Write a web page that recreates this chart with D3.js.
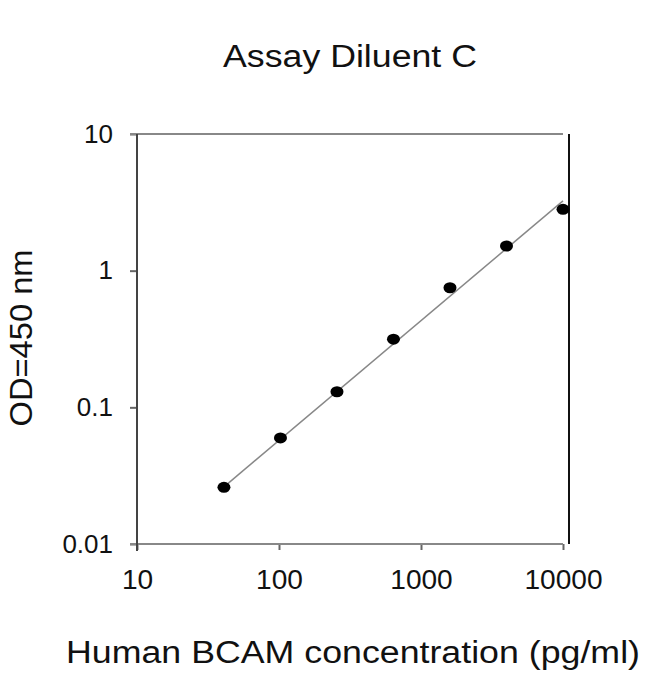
<!DOCTYPE html>
<html>
<head>
<meta charset="utf-8">
<script src="https://cdn.jsdelivr.net/npm/d3@7"></script>
<style>
  body { margin: 0; background: #fff; }
  text { font-family: "Liberation Sans", Arial, sans-serif; fill: #111; }
</style>
</head>
<body>
<svg width="650" height="674"></svg>
<script>
// standards (pg/ml) and measured OD
const concentration = [40.96, 102.4, 256, 640, 1600, 4000, 10000];
const od = [0.026, 0.0597, 0.130, 0.315, 0.75, 1.515, 2.81];
// fitted curve end points
const fitX = [40.96, 10000];
const fitY = [0.0262, 3.24];
const xTicks = [10, 100, 1000, 10000];
const yTicks = [0.01, 0.1, 1, 10];
const yTickLabels = ["0.01", "0.1", "1", "10"];

const svg = d3.select("svg");

let xScale = d3.scaleLog().domain([10, 10000]).range([137, 563]);
let yScale = d3.scaleLog().domain([0.01, 10]).range([544, 134]);

// title
svg.append("text")
  .attr("x", 350).attr("y", 67)
  .attr("text-anchor", "middle")
  .attr("font-size", 31)
  .attr("textLength", 254).attr("lengthAdjust", "spacingAndGlyphs")
  .text("Assay Diluent C");

// x axis
let xAxis = d3.axisBottom(xScale)
  .tickValues(xTicks).tickFormat(d3.format("d"))
  .tickSizeOuter(0).tickSizeInner(6).tickPadding(20);
let xAxisG = svg.append("g").attr("id", "xAxisG")
  .attr("transform", "translate(0, 544)")
  .call(xAxis);
xAxisG.select(".domain").remove();
xAxisG.selectAll(".tick line").attr("stroke", "#666").attr("stroke-width", 2);
xAxisG.selectAll(".tick text").attr("font-size", 27).attr("fill", "#111")
  .attr("transform", "scale(1.04, 1)");

// y axis
let yAxis = d3.axisLeft(yScale)
  .tickValues(yTicks).tickFormat((d, i) => yTickLabels[i])
  .tickSizeOuter(0).tickSizeInner(7).tickPadding(17);
let yAxisG = svg.append("g").attr("id", "yAxisG")
  .attr("transform", "translate(137, 0)")
  .call(yAxis);
yAxisG.select(".domain").remove();
yAxisG.selectAll(".tick line").attr("stroke", "#666").attr("stroke-width", 2);
yAxisG.selectAll(".tick text").attr("font-size", 26).attr("fill", "#111");

// frame
svg.append("line")
  .attr("x1", xScale(10) - 7).attr("x2", xScale(10000))
  .attr("y1", yScale(10)).attr("y2", yScale(10))
  .attr("stroke", "#888").attr("stroke-width", 2);
svg.append("line")
  .attr("x1", xScale(10) - 7).attr("x2", xScale(10000))
  .attr("y1", yScale(0.01)).attr("y2", yScale(0.01))
  .attr("stroke", "#888").attr("stroke-width", 2);
svg.append("line")
  .attr("x1", xScale(10)).attr("x2", xScale(10))
  .attr("y1", yScale(10)).attr("y2", yScale(0.01) + 7)
  .attr("stroke", "#444").attr("stroke-width", 2);
svg.append("line")
  .attr("x1", xScale(10000) + 6).attr("x2", xScale(10000) + 6)
  .attr("y1", yScale(10)).attr("y2", yScale(0.01))
  .attr("stroke", "#111").attr("stroke-width", 2);

// fit line
let fitLine = d3.line()
  .x(d => xScale(d[0]))
  .y(d => yScale(d[1]));
svg.append("path")
  .attr("d", fitLine(fitX.map((x, i) => [x, fitY[i]])))
  .attr("fill", "none")
  .attr("stroke", "#888")
  .attr("stroke-width", 1.5);

// points
svg.selectAll("ellipse.pt")
  .data(concentration)
  .join("ellipse")
  .attr("class", "pt")
  .attr("cx", d => xScale(d))
  .attr("cy", (d, i) => yScale(od[i]))
  .attr("rx", 6.5).attr("ry", 5.5)
  .attr("fill", "#000");

// axis titles
svg.append("text")
  .attr("x", 353).attr("y", 663)
  .attr("text-anchor", "middle")
  .attr("font-size", 31)
  .attr("textLength", 574).attr("lengthAdjust", "spacingAndGlyphs")
  .text("Human BCAM concentration (pg/ml)");

svg.append("text")
  .attr("transform", "translate(32, 338) rotate(-90)")
  .attr("text-anchor", "middle")
  .attr("font-size", 32)
  .attr("textLength", 177).attr("lengthAdjust", "spacingAndGlyphs")
  .text("OD=450 nm");
</script>
</body>
</html>
